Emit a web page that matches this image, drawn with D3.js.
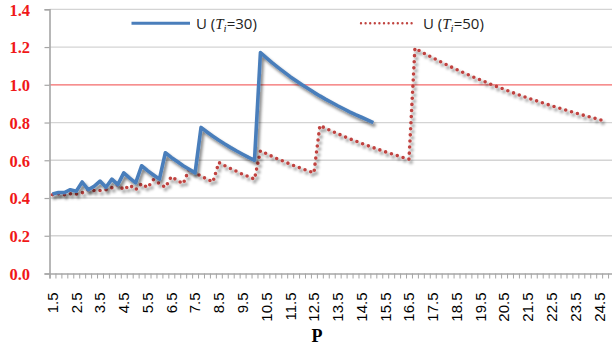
<!DOCTYPE html>
<html>
<head>
<meta charset="utf-8">
<script src="https://cdn.jsdelivr.net/npm/d3@7"></script>
<style>
  html, body { margin: 0; padding: 0; background: #fff; }
  svg { display: block; }
</style>
</head>
<body>
<svg id="chart" width="612" height="351"></svg>
<script>
// Category axis: P from 1.5 to 25.0 in steps of 0.25
const categories = [
  1.5, 1.75, 2.0, 2.25, 2.5, 2.75, 3.0, 3.25, 3.5, 3.75,
  4.0, 4.25, 4.5, 4.75, 5.0, 5.25, 5.5, 5.75, 6.0, 6.25,
  6.5, 6.75, 7.0, 7.25, 7.5, 7.75, 8.0, 8.25, 8.5, 8.75,
  9.0, 9.25, 9.5, 9.75, 10.0, 10.25, 10.5, 10.75, 11.0, 11.25,
  11.5, 11.75, 12.0, 12.25, 12.5, 12.75, 13.0, 13.25, 13.5, 13.75,
  14.0, 14.25, 14.5, 14.75, 15.0, 15.25, 15.5, 15.75, 16.0, 16.25,
  16.5, 16.75, 17.0, 17.25, 17.5, 17.75, 18.0, 18.25, 18.5, 18.75,
  19.0, 19.25, 19.5, 19.75, 20.0, 20.25, 20.5, 20.75, 21.0, 21.25,
  21.5, 21.75, 22.0, 22.25, 22.5, 22.75, 23.0, 23.25, 23.5, 23.75,
  24.0, 24.25, 24.5, 24.75, 25.0
];

// U for T_i = 30 (defined up to P = 15)
const u30 = [
  0.421, 0.429, 0.429, 0.444, 0.436, 0.485, 0.444, 0.462, 0.490, 0.457,
  0.500, 0.471, 0.533, 0.505, 0.480, 0.571, 0.545, 0.522, 0.500, 0.640,
  0.615, 0.593, 0.571, 0.552, 0.533, 0.774, 0.750, 0.727, 0.706, 0.686,
  0.667, 0.649, 0.632, 0.615, 0.600, 1.171, 1.143, 1.116, 1.091, 1.067,
  1.043, 1.021, 1.000, 0.980, 0.960, 0.941, 0.923, 0.906, 0.889, 0.873,
  0.857, 0.842, 0.828, 0.814, 0.800
];

// U for T_i = 50 (defined up to P = 24.75)
const u50 = [
  0.417, 0.423, 0.417, 0.423, 0.421, 0.428, 0.444, 0.440, 0.440, 0.444,
  0.455, 0.471, 0.444, 0.468, 0.444, 0.476, 0.455, 0.497, 0.476, 0.457,
  0.513, 0.494, 0.476, 0.552, 0.533, 0.516, 0.500, 0.485, 0.588, 0.571,
  0.556, 0.541, 0.526, 0.513, 0.500, 0.650, 0.635, 0.620, 0.606, 0.593,
  0.580, 0.567, 0.556, 0.544, 0.533, 0.784, 0.769, 0.755, 0.741, 0.727,
  0.714, 0.702, 0.690, 0.678, 0.667, 0.656, 0.645, 0.635, 0.625, 0.615,
  0.606, 1.194, 1.176, 1.159, 1.143, 1.127, 1.111, 1.096, 1.081, 1.067,
  1.053, 1.039, 1.026, 1.013, 1.000, 0.988, 0.976, 0.964, 0.952, 0.941,
  0.930, 0.920, 0.909, 0.899, 0.889, 0.879, 0.870, 0.860, 0.851, 0.842,
  0.833, 0.825, 0.816, 0.808
];

const yTicks = [0.0, 0.2, 0.4, 0.6, 0.8, 1.0, 1.2, 1.4];
const xLabels = [1.5, 2.5, 3.5, 4.5, 5.5, 6.5, 7.5, 8.5, 9.5, 10.5, 11.5, 12.5,
  13.5, 14.5, 15.5, 16.5, 17.5, 18.5, 19.5, 20.5, 21.5, 22.5, 23.5, 24.5];
const referenceLevel = 1.0;

const seriesNames = ["30", "50"];

const plotLeft = 49.5, plotRight = 614, plotTop = 9.3, plotBottom = 273.5;

const svg = d3.select("#chart");

const defs = svg.append("defs");
const shadow = defs.append("filter").attr("id", "shadow")
  .attr("x", "-5%").attr("y", "-5%").attr("width", "110%").attr("height", "115%");
shadow.append("feGaussianBlur").attr("in", "SourceAlpha").attr("stdDeviation", 1.5).attr("result", "b");
shadow.append("feOffset").attr("in", "b").attr("dx", 2).attr("dy", 3).attr("result", "o");
shadow.append("feComponentTransfer").attr("in", "o").attr("result", "s")
  .append("feFuncA").attr("type", "linear").attr("slope", 0.5);
const merge = shadow.append("feMerge");
merge.append("feMergeNode").attr("in", "s");
merge.append("feMergeNode").attr("in", "SourceGraphic");

const x = d3.scaleBand().domain(categories).range([plotLeft, plotRight]).padding(0);
const xEdge = d3.scaleLinear().domain([0, categories.length]).range([plotLeft, plotRight]);
const y = d3.scaleLinear().domain([0, 1.4]).range([plotBottom, plotTop]);
const cx = p => x(p) + x.bandwidth() / 2;

// horizontal gridlines
svg.append("g").selectAll("line")
  .data(yTicks.filter(v => v > 0 && v !== referenceLevel))
  .join("line")
  .attr("x1", plotLeft).attr("x2", plotRight)
  .attr("y1", d => y(d)).attr("y2", d => y(d))
  .attr("stroke", "#d4d4d4").attr("stroke-width", 1.3);

// reference line at U = 1
svg.append("line")
  .attr("x1", plotLeft).attr("x2", plotRight)
  .attr("y1", y(referenceLevel)).attr("y2", y(referenceLevel))
  .attr("stroke", "#f36a6a").attr("stroke-width", 1.3);

// y axis
const yAxis = svg.append("g").attr("transform", `translate(${plotLeft},0)`)
  .call(d3.axisLeft(y).tickValues(yTicks).tickSize(5).tickFormat(d3.format(".1f")));
yAxis.select(".domain").attr("stroke", "#a6a6a6").attr("stroke-width", 1.6);
yAxis.selectAll(".tick line").attr("stroke", "#a6a6a6").attr("stroke-width", 1.2);
yAxis.selectAll(".tick text")
  .attr("x", -19.5)
  .attr("dy", "0.36em")
  .attr("fill", "#f01818")
  .attr("font-family", "'Liberation Serif', 'Times New Roman', serif")
  .attr("font-weight", "bold")
  .attr("font-size", 16.5);

// x axis tick marks at category boundaries
const xTickAxis = svg.append("g").attr("transform", `translate(0,${plotBottom})`)
  .call(d3.axisBottom(xEdge).tickValues(d3.range(categories.length + 1)).tickSize(5).tickFormat(""));
xTickAxis.select(".domain").attr("stroke", "#a6a6a6").attr("stroke-width", 1.6);
xTickAxis.selectAll(".tick line").attr("stroke", "#a6a6a6").attr("stroke-width", 1);

// x axis labels, rotated
const xLabelAxis = svg.append("g").attr("transform", `translate(0,${plotBottom})`)
  .call(d3.axisBottom(x).tickValues(xLabels).tickSize(0).tickFormat(d3.format(".1f")));
xLabelAxis.select(".domain").remove();
xLabelAxis.selectAll(".tick text")
  .attr("transform", "rotate(-90)")
  .attr("text-anchor", "end")
  .attr("x", -19)
  .attr("y", 0)
  .attr("dy", "0.36em")
  .attr("fill", "#000")
  .attr("font-family", "'Liberation Sans', Arial, sans-serif")
  .attr("font-size", 15);

// axis title
svg.append("text")
  .attr("x", 317).attr("y", 342)
  .attr("text-anchor", "middle")
  .attr("font-family", "'Liberation Serif', 'Times New Roman', serif")
  .attr("font-weight", "bold")
  .attr("font-size", 18)
  .text("P");

// series lines
const line = d3.line()
  .defined(d => d.v != null)
  .x(d => cx(d.p))
  .y(d => y(d.v));

const s30 = categories.map((p, i) => ({ p, v: i < u30.length ? u30[i] : null }));
const s50 = categories.map((p, i) => ({ p, v: i < u50.length ? u50[i] : null }));

svg.append("path")
  .datum(s50)
  .attr("d", line)
  .attr("fill", "none")
  .attr("stroke", "#c0433f")
  .attr("stroke-width", 3.6)
  .attr("stroke-linecap", "round")
  .attr("stroke-linejoin", "round")
  .attr("stroke-dasharray", "0 6.1")
  .attr("filter", "url(#shadow)");

svg.append("path")
  .datum(s30)
  .attr("d", line)
  .attr("fill", "none")
  .attr("stroke", "#4a7ebb")
  .attr("stroke-width", 3.6)
  .attr("stroke-linejoin", "round")
  .attr("filter", "url(#shadow)");

// legend
const legend = svg.append("g");
const legendItems = [
  { name: seriesNames[0], x1: 131.5, x2: 190, tx: 196, color: "#4a7ebb", dash: null },
  { name: seriesNames[1], x1: 361, x2: 413, tx: 423, color: "#c0433f", dash: "0 4.6" }
];
legendItems.forEach(it => {
  legend.append("line")
    .attr("x1", it.x1).attr("x2", it.x2).attr("y1", 23.3).attr("y2", 23.3)
    .attr("stroke", it.color)
    .attr("stroke-width", it.dash ? 2.4 : 3)
    .attr("stroke-linecap", it.dash ? "round" : "butt")
    .attr("stroke-dasharray", it.dash);
  const t = legend.append("text")
    .attr("x", it.tx).attr("y", 28.5)
    .attr("font-family", "'Open Sans', 'Liberation Sans', sans-serif")
    .attr("font-size", 15)
    .attr("fill", "#222");
  t.append("tspan").text("U (");
  t.append("tspan").attr("font-family", "'Liberation Serif', serif").attr("font-style", "italic").text("T");
  t.append("tspan").attr("font-family", "'Liberation Serif', serif").attr("font-style", "italic")
    .attr("font-size", 11).attr("dy", 3).text("i");
  t.append("tspan").attr("dy", -3).text("=" + it.name + ")");
});
</script>
</body>
</html>
